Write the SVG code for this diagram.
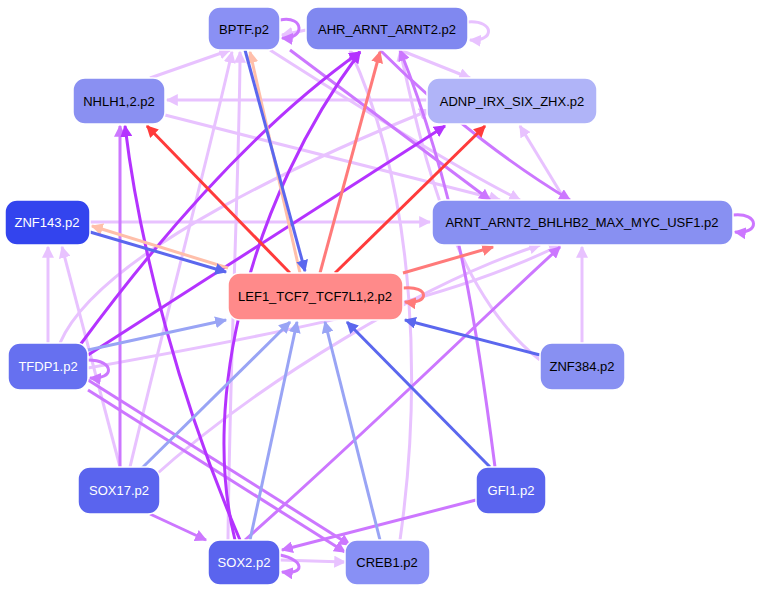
<svg xmlns="http://www.w3.org/2000/svg" width="763" height="593" viewBox="0 0 763 593">
<style>
.n rect{stroke:#fff;stroke-width:1.5}
.n text{font-family:"Liberation Sans",Arial,sans-serif;font-size:13px;text-anchor:middle;dominant-baseline:central}
.w{fill:#fff}.b{fill:#000}
.e path{fill:none;stroke-width:3}
.r{stroke:#ff3b3b}.lr{stroke:#ff7a7a}.pe{stroke:#ffbfaa}
.p{stroke:#b433ff}.mp{stroke:#cc77ff}.lp{stroke:#e8c2ff}
.bl{stroke:#5b67ee}.lb{stroke:#99a4f5}
</style>
<defs>
<marker id="a" viewBox="0 0 10 10" refX="9" refY="5" markerWidth="4" markerHeight="4" orient="auto-start-reverse"><path d="M0,0L10,5L0,10z" fill="context-stroke"/></marker>
</defs>
<rect width="763" height="593" fill="#fff"/>
<g class="e">
<path class="lp" d="M88,368 C300,330 450,300 560,245" stroke-width="5" marker-end="url(#a)"/>
<path class="lp" d="M90,222 L430,222" marker-end="url(#a)"/>
<path class="lp" d="M48,343 L48,247" marker-end="url(#a)"/>
<path class="lp" d="M120,467 L62,247" marker-end="url(#a)"/>
<path class="lp" d="M427,100 L167,100" marker-end="url(#a)"/>
<path class="lp" d="M582,343 L582,247" marker-end="url(#a)"/>
<path class="lp" d="M565,200 L520,126" marker-end="url(#a)"/>
<path class="lp" d="M165,115 L500,200" marker-end="url(#a)"/>
<path class="lp" d="M150,78 L230,50" marker-end="url(#a)"/>
<path class="lp" d="M306,30 L282,35" marker-end="url(#a)"/>
<path class="lp" d="M270,50 C380,120 460,170 520,200" marker-end="url(#a)"/>
<path class="lp" d="M130,467 C170,300 210,150 232,52" marker-end="url(#a)"/>
<path class="lp" d="M228,540 C230,350 240,150 240,52" marker-end="url(#a)"/>
<path class="lp" d="M60,343 C100,250 330,150 430,110" marker-end="url(#a)"/>
<path class="lp" d="M150,480 C260,380 430,280 540,245" marker-end="url(#a)"/>
<path class="lp" d="M540,360 C450,290 420,140 400,50" stroke-width="4" marker-end="url(#a)"/>
<path class="lp" d="M400,50 L470,78" marker-end="url(#a)"/>
<path class="lp" d="M280,560 L345,562" marker-end="url(#a)"/>
<path class="lp" d="M400,540 C420,400 420,200 350,50" marker-end="url(#a)"/>
<path class="mp" d="M120,467 L120,126" marker-end="url(#a)"/>
<path class="mp" d="M150,514 L206,540" marker-end="url(#a)"/>
<path class="mp" d="M476,500 L282,550" marker-end="url(#a)"/>
<path class="mp" d="M88,390 L345,552" marker-end="url(#a)"/>
<path class="mp" d="M88,380 L350,545" marker-end="url(#a)"/>
<path class="mp" d="M380,50 C450,120 520,170 570,200" marker-end="url(#a)"/>
<path class="mp" d="M290,50 L490,200" marker-end="url(#a)"/>
<path class="mp" d="M495,467 C480,350 460,200 400,50" marker-end="url(#a)"/>
<path class="mp" d="M245,540 C380,420 480,320 560,247" marker-end="url(#a)"/>
<path class="p" d="M240,540 C180,400 140,250 125,126" marker-end="url(#a)"/>
<path class="p" d="M235,540 C200,400 250,200 360,52" marker-end="url(#a)"/>
<path class="p" d="M80,345 C150,250 250,130 360,52" marker-end="url(#a)"/>
<path class="p" d="M88,355 L445,126" marker-end="url(#a)"/>
<path class="r" d="M290,273 L147,126" marker-end="url(#a)"/>
<path class="r" d="M335,273 L485,126" marker-end="url(#a)"/>
<path class="lr" d="M320,273 L380,52" marker-end="url(#a)"/>
<path class="lr" d="M403,273 L493,247" marker-end="url(#a)"/>
<path class="pe" d="M300,273 L250,52" marker-end="url(#a)"/>
<path class="pe" d="M228,268 L92,226" marker-end="url(#a)"/>
<path class="bl" d="M90,232 L226,272" marker-end="url(#a)"/>
<path class="bl" d="M490,467 L347,322" marker-end="url(#a)"/>
<path class="bl" d="M540,355 L405,320" marker-end="url(#a)"/>
<path class="lb" d="M88,350 L226,320" marker-end="url(#a)"/>
<path class="lb" d="M140,470 L290,322" marker-end="url(#a)"/>
<path class="lb" d="M250,540 L297,322" marker-end="url(#a)"/>
<path class="lb" d="M380,540 L325,322" marker-end="url(#a)"/>
<path class="bl" d="M245,50 L305,271" stroke="#7d8cf0" marker-end="url(#a)"/>
<path class="lr" stroke="#ffa0a0" d="M403,288 C430,285 430,305 405,302" marker-end="url(#a)"/>
<path class="mp" d="M280,20 C305,15 305,40 282,38" marker-end="url(#a)"/>
<path class="lp" d="M468,22 C495,20 495,42 470,40" marker-end="url(#a)"/>
<path class="mp" d="M733,215 C760,212 760,235 735,232" marker-end="url(#a)"/>
<path class="mp" d="M88,360 C115,360 115,380 90,378" marker-end="url(#a)"/>
<path class="mp" d="M280,555 C305,560 305,575 282,572" marker-end="url(#a)"/>
</g>
<g id="BPTF" class="n"><rect x="208" y="7" width="72" height="43" rx="12" fill="#8a90f4"/><text x="244" y="29" class="b">BPTF.p2</text></g>
<g id="AHR" class="n"><rect x="306" y="7" width="162" height="43" rx="12" fill="#8088f0"/><text x="387" y="29" class="b">AHR_ARNT_ARNT2.p2</text></g>
<g id="NHLH1" class="n"><rect x="73" y="78" width="92" height="46" rx="12" fill="#8a90f2"/><text x="119" y="101" class="b">NHLH1,2.p2</text></g>
<g id="ADNP" class="n"><rect x="427" y="78" width="170" height="46" rx="12" fill="#b0b4f8"/><text x="512" y="101" class="b">ADNP_IRX_SIX_ZHX.p2</text></g>
<g id="ZNF143" class="n"><rect x="5" y="200" width="85" height="45" rx="12" fill="#3344ee"/><text x="47" y="222" class="w">ZNF143.p2</text></g>
<g id="ARNT" class="n"><rect x="432" y="200" width="301" height="45" rx="12" fill="#8890f2"/><text x="582" y="222" class="b">ARNT_ARNT2_BHLHB2_MAX_MYC_USF1.p2</text></g>
<g id="LEF1" class="n"><rect x="228" y="273" width="175" height="47" rx="12" fill="#ff8a8a"/><text x="315" y="296" class="b">LEF1_TCF7_TCF7L1,2.p2</text></g>
<g id="TFDP1" class="n"><rect x="8" y="343" width="80" height="47" rx="12" fill="#6670f0"/><text x="48" y="366" class="w">TFDP1.p2</text></g>
<g id="ZNF384" class="n"><rect x="540" y="343" width="85" height="47" rx="12" fill="#8890f2"/><text x="582" y="366" class="b">ZNF384.p2</text></g>
<g id="SOX17" class="n"><rect x="78" y="467" width="82" height="47" rx="12" fill="#5a64ee"/><text x="119" y="490" class="w">SOX17.p2</text></g>
<g id="GFI1" class="n"><rect x="476" y="467" width="70" height="47" rx="12" fill="#5a64ee"/><text x="511" y="490" class="w">GFI1.p2</text></g>
<g id="SOX2" class="n"><rect x="208" y="540" width="72" height="45" rx="12" fill="#5a64ee"/><text x="244" y="562" class="w">SOX2.p2</text></g>
<g id="CREB1" class="n"><rect x="345" y="540" width="85" height="45" rx="12" fill="#8890f5"/><text x="387" y="562" class="b">CREB1.p2</text></g>
</svg>
